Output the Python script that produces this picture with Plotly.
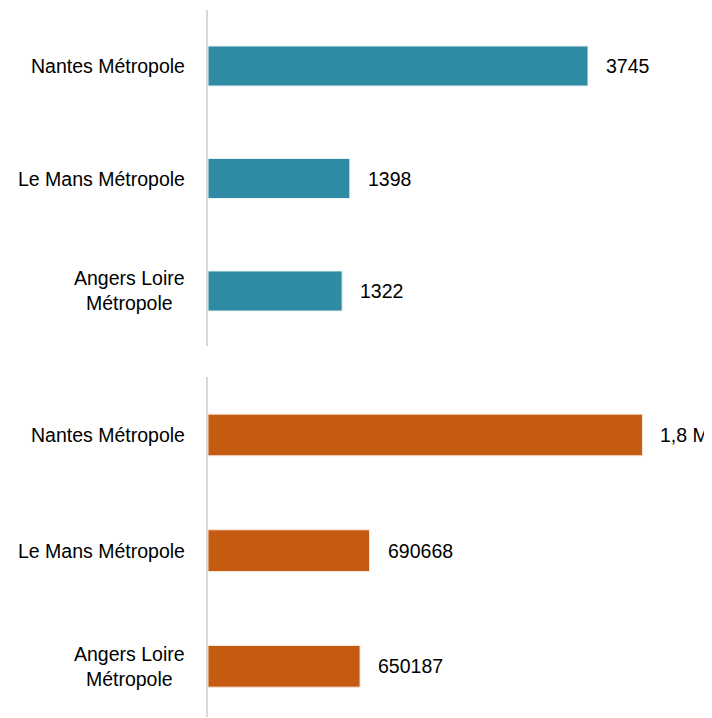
import plotly.graph_objects as go
from plotly.subplots import make_subplots

categories = ["Nantes Métropole", "Le Mans Métropole", "Angers Loire<br>Métropole"]
top_values = [3745, 1398, 1322]
top_labels = ["3745", "1398", "1322"]
bottom_values = [1858000, 690668, 650187]
bottom_labels = ["1,8 M", "690668", "650187"]

TEAL = "#2F8AA3"
ORANGE = "#C55A11"
FONT = "Liberation Sans, Arial, sans-serif"
FS = 19.5

# page body adds an 8px offset; figure sized to fit the window
OFF = 8
W, H = 712 - OFF, 718 - OFF
fig = make_subplots(rows=2, cols=1)

fig.add_trace(go.Bar(x=top_values, y=categories, orientation="h", width=0.356,
                     marker=dict(color=TEAL, line=dict(color="#EAF3F6", width=1)),
                     hoverinfo="skip"), row=1, col=1)
fig.add_trace(go.Bar(x=bottom_values, y=categories, orientation="h", width=0.36,
                     marker=dict(color=ORANGE, line=dict(color="#F6E6DA", width=1)),
                     hoverinfo="skip"), row=2, col=1)

annotations = []
for xref, yref, vals, labs in [("x", "y", top_values, top_labels),
                               ("x2", "y2", bottom_values, bottom_labels)]:
    for c, v, t in zip(categories, vals, labs):
        annotations.append(dict(x=v, y=c, xref=xref, yref=yref, text=t,
                                showarrow=False, xanchor="left", xshift=16,
                                font=dict(family=FONT, size=FS, color="#000")))
        annotations.append(dict(x=0, y=c, xref=xref + " domain", yref=yref, text=c,
                                showarrow=False, xanchor="right", align="center",
                                xshift=-21,
                                font=dict(family=FONT, size=FS, color="#000")))

def dom(top_px, bot_px):
    return [1 - (bot_px - OFF) / H, 1 - (top_px - OFF) / H]

fig.update_layout(
    width=W, height=H,
    margin=dict(l=208 - OFF, r=12, t=0, b=0),
    paper_bgcolor="white", plot_bgcolor="white",
    showlegend=False,
    annotations=annotations,
    font=dict(family=FONT, size=FS, color="#000"),
    xaxis=dict(domain=[0, 1], range=[0, 4849], visible=False),
    xaxis2=dict(domain=[0, 1], range=[0, 2104000], visible=False),
    yaxis=dict(domain=dom(10, 346), range=[2.489, -0.498],
               showticklabels=False, ticks="", showgrid=False, zeroline=False,
               showline=True, linecolor="#D9D9D9", linewidth=2,
               categoryorder="array", categoryarray=categories),
    yaxis2=dict(domain=dom(377, 717), range=[2.438, -0.501],
                showticklabels=False, ticks="", showgrid=False, zeroline=False,
                showline=True, linecolor="#D9D9D9", linewidth=2,
                categoryorder="array", categoryarray=categories),
)

fig.write_html("out.html")
